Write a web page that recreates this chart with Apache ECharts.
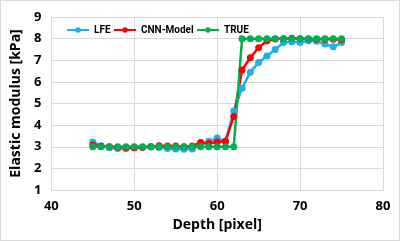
<!DOCTYPE html>
<html>
<head>
<meta charset="utf-8">
<script src="https://cdn.jsdelivr.net/npm/echarts@6/dist/echarts.min.js"></script>
<style>
  html, body { margin: 0; padding: 0; background: #fff; }
  #chart { width: 398px; height: 239px; border: 1px solid #d9d9d9; }
</style>
</head>
<body>
<div id="chart"></div>
<script>
// depth in pixels
const depth = [45, 46, 47, 48, 49, 50, 51, 52, 53, 54, 55, 56, 57, 58, 59, 60,
  61, 62, 63, 64, 65, 66, 67, 68, 69, 70, 71, 72, 73, 74, 75];
const lfe = [3.22, 3.05, 2.95, 2.92, 2.92, 2.95, 2.97, 3.0, 2.97, 2.92, 2.9, 2.88, 2.9, 3.1, 3.25, 3.4,
  3.25, 4.65, 5.7, 6.45, 6.9, 7.2, 7.5, 7.82, 7.85, 7.82, 7.9, 7.88, 7.75, 7.62, 7.82];
const cnn = [3.08, 3.02, 3.0, 2.98, 2.95, 2.95, 2.98, 3.0, 3.05, 3.03, 3.03, 3.0, 3.03, 3.2, 3.15, 3.22,
  3.25, 4.4, 6.55, 7.12, 7.58, 7.9, 7.98, 8.0, 8.02, 8.0, 7.98, 7.97, 7.97, 7.97, 7.95];
const truth = [3, 3, 3, 3, 3, 3, 3, 3, 3, 3, 3, 3, 3, 3, 3, 3,
  3, 3, 8, 8, 8, 8, 8, 8, 8, 8, 8, 8, 8, 8, 8];

const seriesNames = ['LFE', 'CNN-Model', 'TRUE'];
const seriesColors = ['#1cb0ec', '#ff0000', '#00b050'];
const seriesData = [lfe, cnn, truth];

const font = '"Open Sans", "Liberation Sans", sans-serif';
const legendFont = 'Roboto, "Open Sans", sans-serif';
const legendLeft = [60, 107, 190];

let chart = echarts.init(document.getElementById('chart'));
chart.setOption({
  animation: false,
  textStyle: { fontFamily: font },
  grid: { left: 49, right: 16, top: 16, bottom: 50 },
  legend: seriesNames.map((name, i) => ({
    left: legendLeft[i],
    top: 19,
    itemWidth: 22,
    itemHeight: 7,
    textStyle: { fontSize: 10, fontWeight: 'bold', color: '#000', fontFamily: legendFont },
    data: [name]
  })),
  xAxis: {
    type: 'value',
    min: 40, max: 80, interval: 10,
    name: 'Depth [pixel]',
    nameLocation: 'middle',
    nameGap: 28,
    nameTextStyle: { fontSize: 14, fontWeight: 'bold', color: '#000', fontFamily: font },
    axisLine: { lineStyle: { color: '#d9d9d9' } },
    axisTick: { show: false },
    axisLabel: { fontSize: 13, fontWeight: 'bold', color: '#000', margin: 10 },
    splitLine: { lineStyle: { color: '#d9d9d9' } }
  },
  yAxis: {
    type: 'value',
    min: 1, max: 9, interval: 1,
    name: 'Elastic modulus [kPa]',
    nameLocation: 'middle',
    nameGap: 28,
    nameTextStyle: { fontSize: 14, fontWeight: 'bold', color: '#000', fontFamily: font },
    axisLine: { show: true, lineStyle: { color: '#d9d9d9' } },
    axisTick: { show: false },
    axisLabel: { fontSize: 13, fontWeight: 'bold', color: '#000', margin: 10 },
    splitLine: { lineStyle: { color: '#d9d9d9' } }
  },
  series: seriesNames.map((name, i) => ({
    name: name,
    type: 'line',
    data: depth.map((d, j) => [d, seriesData[i][j]]),
    symbol: 'circle',
    symbolSize: 7,
    color: seriesColors[i],
    lineStyle: { width: 2.5, color: seriesColors[i] },
    itemStyle: { color: seriesColors[i] }
  }))
});
</script>
</body>
</html>
